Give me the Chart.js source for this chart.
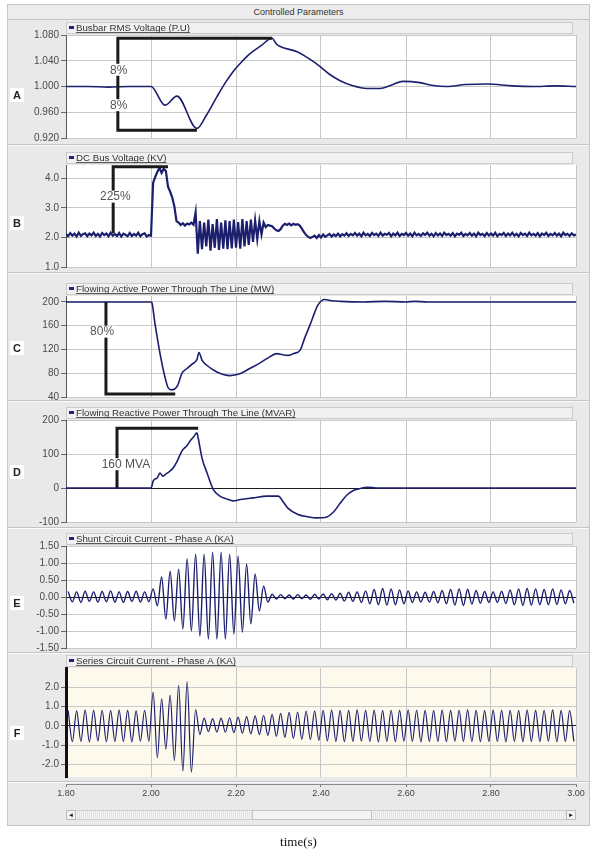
<!DOCTYPE html>
<html>
<head>
<meta charset="utf-8">
<script src="https://cdn.jsdelivr.net/npm/chart.js@4.4.0/dist/chart.umd.min.js"></script>
<style>
  body { margin: 0; background: #fff; width: 597px; height: 854px; position: relative; overflow: hidden;
         font-family: "Liberation Sans", Arial, sans-serif; }
  #frame { position: absolute; left: 7px; top: 4px; width: 583px; height: 822px; background: #e9e9e9;
           border: 1px solid #c6c6c6; box-sizing: border-box; }
  #ttl { position: absolute; left: 8px; top: 5px; width: 581px; height: 14px; line-height: 14px; font-size: 9px;
         color: #333; text-align: center; border-bottom: 1px solid #c2c2c2; background: #ececec; }
  .sep { position: absolute; left: 8px; width: 581px; height: 1px; background: #c3c3c3; border-bottom: 1px solid #fafafa; }
  .box { position: absolute; left: 8px; width: 582px; }
  #track { position: absolute; left: 66px; top: 810px; width: 510px; height: 10px; box-sizing: border-box;
           border: 1px solid #d0d0d0; background: repeating-linear-gradient(90deg, #e2e2e2 0 1px, #f4f4f4 1px 2px); }
  .btn { position: absolute; top: 810px; width: 10px; height: 10px; box-sizing: border-box; border: 1px solid #bdbdbd;
         background: #f2f2f2; font-size: 6px; line-height: 8px; text-align: center; color: #111; }
  #thumb { position: absolute; left: 252px; top: 810px; width: 120px; height: 10px; box-sizing: border-box;
           border: 1px solid #c4c4c4; background: #f3f3f3; }
  #xlab { position: absolute; left: 0; top: 834px; width: 597px; text-align: center;
          font: 13px "Liberation Serif", "Times New Roman", serif; color: #111; }
</style>
</head>
<body>
<div id="frame"></div>
<div id="ttl">Controlled Parameters</div>
<div class="sep" style="top:144px"></div>
<div class="sep" style="top:272px"></div>
<div class="sep" style="top:400px"></div>
<div class="sep" style="top:527px"></div>
<div class="sep" style="top:652px"></div>
<div class="sep" style="top:781px"></div>

<div class="box" style="top:18px;height:128px"><canvas id="pA"></canvas></div>
<div class="box" style="top:146px;height:129px"><canvas id="pB"></canvas></div>
<div class="box" style="top:274px;height:131px"><canvas id="pC"></canvas></div>
<div class="box" style="top:402px;height:128px"><canvas id="pD"></canvas></div>
<div class="box" style="top:529px;height:127px"><canvas id="pE"></canvas></div>
<div class="box" style="top:654px;height:131px"><canvas id="pF"></canvas></div>
<div class="box" style="top:766px;height:34px"><canvas id="pX"></canvas></div>

<div id="track"></div>
<div id="thumb"></div>
<div class="btn" style="left:66px">&#9668;</div>
<div class="btn" style="left:566px">&#9658;</div>
<div id="xlab">time(s)</div>

<script>
const FONT = '"Liberation Sans", Arial, sans-serif';

// time axis (s)
const timeTicks = [1.8, 2.0, 2.2, 2.4, 2.6, 2.8, 3.0];

// A - busbar RMS voltage (p.u.)
const busTime = [1.80, 1.85, 1.90, 1.95, 2.00, 2.033, 2.061, 2.108, 2.130, 2.155, 2.175, 2.193, 2.213, 2.233,
  2.260, 2.285, 2.295, 2.304, 2.344, 2.370, 2.398, 2.420, 2.445, 2.475, 2.508, 2.539, 2.565, 2.593, 2.633,
  2.660, 2.696, 2.740, 2.791, 2.850, 2.899, 2.950, 3.00];
const busVolt = [1.000, 1.000, 0.999, 1.000, 1.000, 0.971, 0.985, 0.935, 0.955, 0.984, 1.006, 1.023, 1.038, 1.051,
  1.064, 1.075, 1.066, 1.062, 1.054, 1.044, 1.031, 1.019, 1.009, 1.001, 0.997, 0.997, 1.002, 1.008, 1.006,
  1.002, 1.000, 1.003, 1.004, 1.001, 1.000, 1.001, 1.000];
const ticksA = [0.92, 0.96, 1.00, 1.04, 1.08];

// B - DC bus voltage (kV), sampled every 5 ms from 1.80 s
const dcStart = 1.80, dcStep = 0.005;
const dcVolt = [
  2.12, 2.04, 2.15, 2.06, 2.13, 2.03, 2.16, 2.05, 2.11, 2.14, 2.04, 2.13, 2.07, 2.16, 2.05, 2.12, 2.03, 2.15, 2.08, 2.13,
  2.04, 2.16, 2.06, 2.12, 2.05, 2.15, 2.03, 2.13, 2.09, 2.04, 2.15, 2.05, 2.12, 2.06, 2.16, 2.04, 2.11, 2.14, 2.03, 2.08,
  2.06,
  3.85, 4.05, 4.22, 4.35, 4.18, 4.32, 4.25, 3.72, 3.55, 3.35, 3.05, 2.55,
  2.50, 2.42, 2.48, 2.40, 2.47, 2.44, 2.50, 2.43,
  2.85,
  1.45, 2.55, 1.60, 2.50, 1.70, 2.60, 1.55, 2.45, 1.65, 2.62, 1.58, 2.50, 1.62, 2.58, 1.60, 2.55,
  1.63, 2.60, 1.65, 2.52, 1.62, 2.62, 1.70, 2.55, 1.75, 2.60, 1.85, 2.58, 1.95, 2.55, 2.10, 2.50,
  2.35, 2.42, 2.40, 2.38, 2.30, 2.24, 2.22, 2.28, 2.40, 2.46, 2.42, 2.47, 2.41, 2.46, 2.43, 2.45, 2.40, 2.30,
  2.18, 2.08, 2.02, 1.98, 2.02,
  2.06, 1.98, 2.08, 2.00, 2.10, 2.02, 2.07, 2.12, 2.03, 2.10, 2.05, 2.13, 2.04, 2.11, 2.06, 2.14, 2.05, 2.12, 2.07, 2.15,
  2.06, 2.13, 2.04, 2.16, 2.07, 2.12, 2.05, 2.15, 2.08, 2.13, 2.05, 2.16, 2.06, 2.12, 2.09, 2.15, 2.04, 2.13, 2.07, 2.16,
  2.05, 2.12, 2.08, 2.15, 2.06, 2.13, 2.04, 2.16, 2.07, 2.12, 2.05, 2.14, 2.08, 2.16, 2.06, 2.12, 2.04, 2.15, 2.07, 2.13,
  2.05, 2.16, 2.08, 2.12, 2.06, 2.15, 2.04, 2.13, 2.09, 2.16, 2.05, 2.12, 2.07, 2.15, 2.06, 2.13, 2.04, 2.16, 2.08, 2.12,
  2.05, 2.15, 2.07, 2.13, 2.06, 2.16, 2.04, 2.12, 2.08, 2.15, 2.05, 2.13, 2.07, 2.16, 2.06, 2.12, 2.04, 2.15, 2.08, 2.13,
  2.05, 2.16, 2.07, 2.12, 2.06, 2.15, 2.04, 2.13, 2.08, 2.16, 2.05, 2.12, 2.07, 2.15, 2.06, 2.13, 2.04, 2.16, 2.08, 2.12,
  2.05, 2.14, 2.07, 2.10];
const ticksB = [1, 2, 3, 4];

// C - active power through the line (MW)
const activeTime = [1.80, 2.00, 2.002, 2.009, 2.021, 2.033, 2.040, 2.048, 2.055, 2.063, 2.073, 2.085, 2.096, 2.108,
  2.113, 2.120, 2.132, 2.155, 2.170, 2.186, 2.209, 2.230, 2.256, 2.280, 2.296, 2.310, 2.322, 2.335, 2.351,
  2.362, 2.374, 2.385, 2.393, 2.409, 2.425, 2.445, 2.50, 2.55, 2.60, 2.62, 2.65, 3.00];
const activePower = [200, 200, 199, 165, 114, 73, 56, 52, 53, 60, 80, 88, 95, 103,
  115, 102, 93, 82, 78, 76, 79, 87, 97, 108, 113, 111, 110, 113, 119,
  140, 161, 182, 195, 204, 202, 201, 200, 201, 200, 201, 200, 200];
const ticksC = [40, 80, 120, 160, 200];

// D - reactive power through the line (MVAR)
const reactiveTime = [1.80, 2.00, 2.002, 2.005, 2.015, 2.021, 2.028, 2.036, 2.045, 2.052, 2.062, 2.073, 2.085,
  2.092, 2.100, 2.108, 2.111, 2.120, 2.132, 2.146, 2.162, 2.180, 2.193, 2.210, 2.240, 2.273, 2.300, 2.308,
  2.322, 2.346, 2.370, 2.390, 2.410, 2.430, 2.445, 2.460, 2.475, 2.490, 2.510, 2.530, 3.00];
const reactivePower = [0, 0, 5, 20, 30, 44, 35, 42, 50, 59, 80, 109, 125,
  138, 150, 162, 147, 88, 44, -3, -24, -33, -38, -34, -29, -24, -24, -35,
  -59, -78, -85, -88, -87, -70, -45, -22, -8, -2, 2, 0, 0];
const ticksD = [-100, 0, 100, 200];

// E, F - phase A currents (kA), one extreme per half cycle (10 ms) from 1.805 s
const waveStart = 1.805, waveStep = 0.01;
const shuntCurrent = [
  0.16, -0.14, 0.15, -0.16, 0.17, -0.13, 0.15, -0.15, 0.16, -0.14, 0.18, -0.15, 0.15, -0.16, 0.16, -0.13, 0.17, -0.15, 0.15, -0.14,
  0.24, -0.26, 0.59, -0.65, 0.76, -0.70, 0.82, -0.94, 1.12, -1.00, 1.26, -1.15, 1.26, -1.24, 1.32, -1.24, 1.32, -1.24, 1.26, -1.09,
  1.20, -1.03, 0.97, -0.79, 0.68, -0.41, 0.32, -0.15,
  0.08, -0.06, 0.07, -0.05, 0.06, -0.06, 0.07, -0.05, 0.06, -0.07, 0.08, -0.06, 0.09, -0.08, 0.10, -0.09, 0.11,
  -0.12, 0.14, -0.13, 0.15, -0.16, 0.18, -0.20, 0.22, -0.23, 0.25, -0.24, 0.24, -0.23, 0.21, -0.20, 0.18, -0.16, 0.15, -0.15, 0.14,
  -0.15, 0.16, -0.17, 0.19, -0.20, 0.22, -0.24, 0.24, -0.25, 0.23, -0.21, 0.19, -0.18, 0.16, -0.16, 0.15, -0.16, 0.17, -0.19, 0.21,
  -0.23, 0.24, -0.25, 0.25, -0.24, 0.24, -0.23, 0.22, -0.23, 0.24, -0.22, 0.21, -0.20, 0.19, -0.18];
const ticksE = [-1.5, -1.0, -0.5, 0, 0.5, 1.0, 1.5];

const seriesCurrent = [
  0.80, -0.82, 0.78, -0.80, 0.82, -0.83, 0.80, -0.78, 0.81, -0.82, 0.79, -0.80, 0.82, -0.81, 0.80, -0.83, 0.78, -0.80, 0.81, -0.79,
  1.75, -1.65, 1.40, -1.20, 1.60, -1.80, 2.10, -2.35, 2.30, -2.40,
  0.85, -0.45,
  0.40, -0.30, 0.38, -0.32, 0.40, -0.33, 0.42, -0.35, 0.45, -0.38, 0.48, -0.42, 0.52, -0.45,
  0.55, -0.50, 0.60, -0.55, 0.65, -0.60, 0.70, -0.65, 0.72, -0.70, 0.76, -0.72, 0.78, -0.75,
  0.80, -0.78, 0.82, -0.80, 0.79, -0.82, 0.81, -0.80, 0.83, -0.79, 0.80, -0.81, 0.82, -0.83, 0.79, -0.80, 0.81, -0.82, 0.80, -0.79,
  0.82, -0.80, 0.81, -0.83, 0.80, -0.81, 0.79, -0.80, 0.82, -0.82, 0.80, -0.79, 0.81, -0.80, 0.83, -0.81, 0.80, -0.82, 0.79, -0.80,
  0.82, -0.81, 0.80, -0.83, 0.81, -0.80, 0.79, -0.82, 0.82, -0.80, 0.80, -0.81, 0.81, -0.79, 0.83, -0.82, 0.80, -0.80, 0.79, -0.81];
const ticksF = [-2, -1, 0, 1, 2];

// bracket marks drawn on top of the traces (data coordinates)
const bracketA = [[2.108, 0.932], [1.922, 0.932], [1.922, 1.075], [2.285, 1.075]];
const notesA = [[1.924, 1.026, '8%'], [1.924, 0.971, '8%']];
const bracketB = [[1.911, 2.15], [1.911, 4.39], [2.04, 4.39]];
const notesB = [[1.916, 3.38, '225%']];
const bracketC = [[1.894, 200], [1.894, 45], [2.057, 45]];
const notesC = [[1.885, 150, '80%']];
const bracketD = [[1.92, 0], [1.92, 176], [2.111, 176]];
const notesD = [[1.941, 70, '160 MVA']];

const pairs = (ts, vs) => ts.map((t, i) => ({ x: t, y: vs[i] }));
const stepped = (t0, dt, vs) => vs.map((v, i) => ({ x: +(t0 + i * dt).toFixed(4), y: v }));

const panels = [
  { id: 'pA', letter: 'A', letterY: 77, padTop: 17, title: 'Busbar RMS Voltage (P.U)', min: 0.92, max: 1.08,
    ticks: ticksA, dec: 3, data: pairs(busTime, busVolt), smooth: true, width: 1.6, bracket: bracketA, notes: notesA },
  { id: 'pB', letter: 'B', letterY: 77, padTop: 19, title: 'DC Bus Voltage (KV)', min: 1, max: 4.45,
    ticks: ticksB, dec: 1, data: stepped(dcStart, dcStep, dcVolt), smooth: false, width: 2.2, bracket: bracketB, notes: notesB },
  { id: 'pC', letter: 'C', letterY: 74, padTop: 22, title: 'Flowing Active Power Through The Line (MW)', min: 40, max: 210,
    ticks: ticksC, dec: 0, data: pairs(activeTime, activePower), smooth: true, width: 1.6, bracket: bracketC, notes: notesC },
  { id: 'pD', letter: 'D', letterY: 70, padTop: 18, title: 'Flowing Reactive Power Through The Line (MVAR)', min: -100, max: 200,
    ticks: ticksD, dec: 0, data: pairs(reactiveTime, reactivePower), smooth: true, width: 1.6, bracket: bracketD, notes: notesD },
  { id: 'pE', letter: 'E', letterY: 74, padTop: 17, title: 'Shunt Circuit Current - Phase A (KA)', min: -1.5, max: 1.5,
    ticks: ticksE, dec: 2, data: stepped(waveStart, waveStep, shuntCurrent), smooth: true, width: 1.4 },
  { id: 'pF', letter: 'F', letterY: 79, padTop: 14, padBottom: 6, title: 'Series Circuit Current - Phase A (KA)', min: -2.65, max: 3.0,
    ticks: ticksF, dec: 1, data: stepped(waveStart, waveStep, seriesCurrent), smooth: true, width: 1.2,
    plotBg: '#fdf9ec', axisColor: '#111', axisWidth: 3 }
];

function decor(p) {
  const bg = p.plotBg || '#ffffff';
  return {
    id: 'decor',
    beforeDraw(chart) {
      const { ctx, chartArea: a } = chart;
      ctx.save();
      ctx.fillStyle = bg;
      ctx.fillRect(a.left, a.top, a.right - a.left, a.bottom - a.top);
      // legend strip above the plot
      ctx.fillStyle = '#f1f1f1';
      ctx.fillRect(a.left, a.top - 13, a.right - a.left - 3, 12);
      ctx.strokeStyle = '#cacaca';
      ctx.lineWidth = 1;
      ctx.strokeRect(a.left + 0.5, a.top - 12.5, a.right - a.left - 4, 11);
      ctx.fillStyle = '#1f2373';
      ctx.fillRect(a.left + 3, a.top - 9, 5, 3);
      ctx.font = '9.7px ' + FONT;
      ctx.fillStyle = '#333';
      ctx.textBaseline = 'alphabetic';
      ctx.fillText(p.title, a.left + 10, a.top - 4);
      ctx.fillRect(a.left + 10, a.top - 3, ctx.measureText(p.title).width, 0.8);
      // panel letter
      ctx.fillStyle = '#fff';
      ctx.fillRect(2, p.letterY - 7, 14, 14);
      ctx.font = 'bold 11px ' + FONT;
      ctx.fillStyle = '#222';
      ctx.textAlign = 'center';
      ctx.textBaseline = 'middle';
      ctx.fillText(p.letter, 9, p.letterY + 0.5);
      ctx.restore();
    },
    afterDatasetsDraw(chart) {
      if (!p.bracket) return;
      const { ctx, scales: { x, y } } = chart;
      ctx.save();
      ctx.strokeStyle = '#1a1a1a';
      ctx.lineWidth = 3;
      ctx.lineJoin = 'miter';
      ctx.beginPath();
      p.bracket.forEach(([t, v], i) => {
        const px = x.getPixelForValue(t), py = y.getPixelForValue(v);
        if (i) ctx.lineTo(px, py); else ctx.moveTo(px, py);
      });
      ctx.stroke();
      ctx.font = '12px ' + FONT;
      ctx.textAlign = 'center';
      ctx.textBaseline = 'middle';
      p.notes.forEach(([t, v, s]) => {
        const px = x.getPixelForValue(t), py = y.getPixelForValue(v);
        const w = ctx.measureText(s).width + 2;
        ctx.fillStyle = bg;
        ctx.fillRect(px - w / 2, py - 6, w, 12);
        ctx.fillStyle = '#555';
        ctx.fillText(s, px, py + 0.5);
      });
      ctx.restore();
    }
  };
}

panels.forEach(p => {
  new Chart(document.getElementById(p.id), {
    type: 'line',
    data: {
      datasets: [{
        data: p.data,
        borderColor: '#1b1f6e',
        borderWidth: p.width,
        pointRadius: 0,
        cubicInterpolationMode: p.smooth ? 'monotone' : 'default',
        tension: 0,
        fill: false
      }]
    },
    options: {
      responsive: true,
      maintainAspectRatio: false,
      animation: false,
      events: [],
      layout: { padding: { top: p.padTop, bottom: p.padBottom || 8, left: 0, right: 14 } },
      plugins: { legend: { display: false }, tooltip: { enabled: false } },
      scales: {
        x: {
          type: 'linear', min: 1.8, max: 3.0,
          afterBuildTicks: s => { s.ticks = timeTicks.map(v => ({ value: v })); },
          afterFit: s => { s.height = 0; },
          ticks: { display: false },
          grid: { color: '#c6c6c6', drawTicks: false },
          border: { display: false }
        },
        y: {
          type: 'linear', min: p.min, max: p.max,
          afterBuildTicks: s => { s.ticks = p.ticks.map(v => ({ value: v })); },
          afterFit: s => { s.width = 58; },
          ticks: { font: { size: 10, family: FONT }, color: '#4a4a4a', padding: 2,
                   callback: v => Number(v).toFixed(p.dec) },
          grid: { color: c => (c.tick && c.tick.value === 0 ? '#1e1e1e' : '#c9c9c9'),
                  tickLength: 5, tickColor: '#666' },
          border: { color: p.axisColor || '#555', width: p.axisWidth || 1 }
        }
      }
    },
    plugins: [decor(p)]
  });
});

// shared time axis under the last panel
new Chart(document.getElementById('pX'), {
  type: 'line',
  data: { datasets: [] },
  options: {
    responsive: true,
    maintainAspectRatio: false,
    animation: false,
    events: [],
    layout: { padding: { top: 0, bottom: 0, left: 58, right: 14 } },
    plugins: { legend: { display: false }, tooltip: { enabled: false } },
    scales: {
      x: {
        type: 'linear', min: 1.8, max: 3.0,
        afterBuildTicks: s => { s.ticks = timeTicks.map(v => ({ value: v })); },
        afterFit: s => { s.height = 16; },
        ticks: { font: { size: 9, family: FONT }, color: '#444', padding: 1, maxRotation: 0,
                 callback: v => Number(v).toFixed(2) },
        grid: { drawOnChartArea: false, drawTicks: true, tickLength: 3, tickColor: '#777' },
        border: { display: true, color: '#8a8a8a' }
      },
      y: { display: false, min: 0, max: 1 }
    }
  }
});
</script>
</body>
</html>
